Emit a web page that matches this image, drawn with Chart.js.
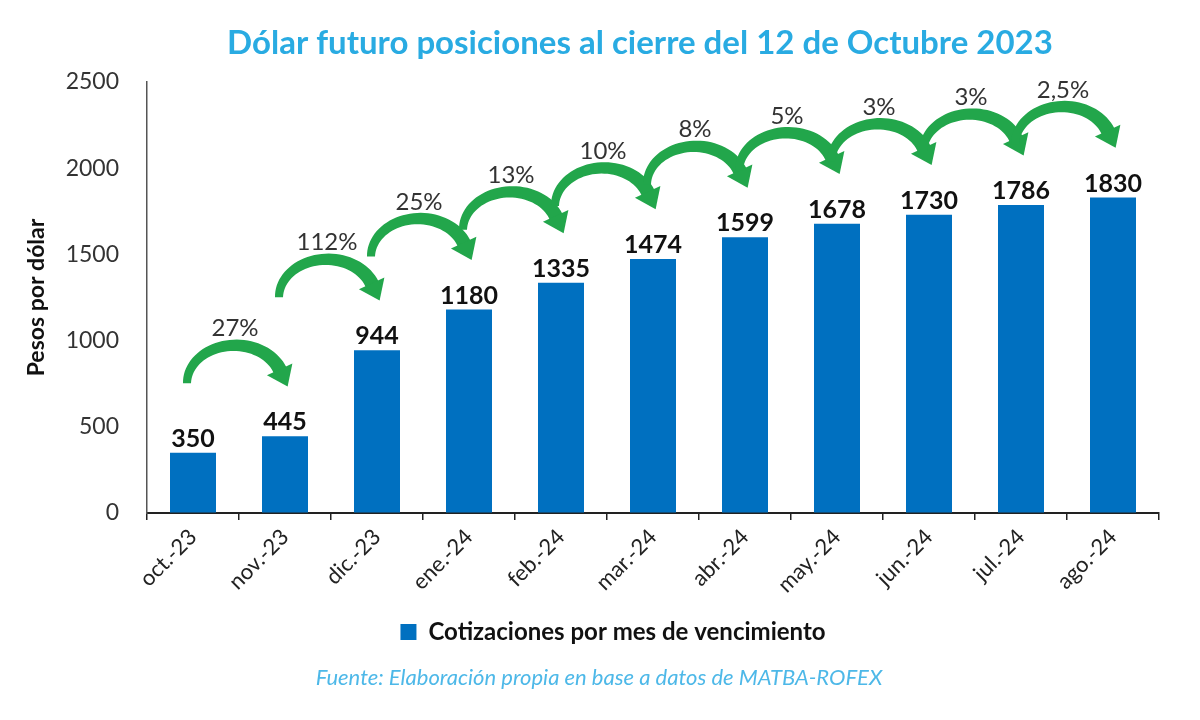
<!DOCTYPE html>
<html>
<head>
<meta charset="utf-8">
<script src="https://cdn.jsdelivr.net/npm/chart.js@4.4.0/dist/chart.umd.min.js"></script>
<style>
  html, body { margin: 0; padding: 0; background: #fff; }
  #wrap { width: 1200px; height: 720px; }
</style>
</head>
<body>
<div id="wrap"><canvas id="chart" width="1200" height="720"></canvas></div>
<script>
// chart data
const months = ['oct.-23', 'nov.-23', 'dic.-23', 'ene.-24', 'feb.-24', 'mar.-24',
                'abr.-24', 'may.-24', 'jun.-24', 'jul.-24', 'ago.-24'];
const quotes = [350, 445, 944, 1180, 1335, 1474, 1599, 1678, 1730, 1786, 1830];
// change between consecutive months (arrows)
const monthlyChange = ['27%', '112%', '25%', '13%', '10%', '8%', '5%', '3%', '3%', '2,5%'];
const yTicks = [0, 500, 1000, 1500, 2000, 2500];

const chartTitle = 'Dólar futuro posiciones al cierre del 12 de Octubre 2023';
const seriesName = 'Cotizaciones por mes de vencimiento';
const axisName = 'Pesos por dólar';
const sourceNote = 'Fuente: Elaboración propia en base a datos de MATBA-ROFEX';

const FONT = 'Lato, "Open Sans", sans-serif';
const BAR_BLUE = '#0070C0';
const ARROW_GREEN = '#22A64B';

// curved green arrow from one bar to the next
function drawArrow(ctx, x0, x1, yb) {
    const cx = (x0 + x1) / 2 - 4;
    const rx = (x1 - x0) / 2 + 2;
    const ry = 38;
    const t0 = Math.PI, t1 = 2 * Math.PI - 0.35;
    const n = 40;
    const outer = [], inner = [];
    for (let k = 0; k <= n; k++) {
        const t = t0 + (t1 - t0) * k / n;
        const px = cx + rx * Math.cos(t), py = yb + ry * Math.sin(t);
        let nx = ry * Math.cos(t), ny = rx * Math.sin(t);
        const len = Math.hypot(nx, ny);
        nx /= len; ny /= len;
        const w = 8 + 6 * k / n;
        outer.push([px + nx * w / 2, py + ny * w / 2]);
        inner.push([px - nx * w / 2, py - ny * w / 2]);
    }
    ctx.beginPath();
    outer.forEach((p, i) => i ? ctx.lineTo(p[0], p[1]) : ctx.moveTo(p[0], p[1]));
    inner.reverse().forEach(p => ctx.lineTo(p[0], p[1]));
    ctx.closePath();
    ctx.fill();

    // arrow head
    const ex = cx + rx * Math.cos(t1), ey = yb + ry * Math.sin(t1);
    let dx = -rx * Math.sin(t1), dy = ry * Math.cos(t1);
    const dl = Math.hypot(dx, dy);
    dx /= dl; dy /= dl;
    const qx = -dy, qy = dx;
    ctx.beginPath();
    ctx.moveTo(ex + qx * 14 - dx, ey + qy * 14 - dy);
    ctx.lineTo(ex + dx * 18, ey + dy * 18);
    ctx.lineTo(ex - qx * 14 - dx, ey - qy * 14 - dy);
    ctx.closePath();
    ctx.fill();
    return { cx, top: yb - ry };
}

const decorations = {
    id: 'decorations',
    afterLayout(chart) {
        // legend sits a little right of the canvas centre in the original
        if (chart.legend) {
            chart.legend.left += 22;
            chart.legend.right += 22;
        }
    },
    afterDatasetsDraw(chart) {
        const ctx = chart.ctx;
        const bars = chart.getDatasetMeta(0).data;
        ctx.save();

        // value labels above bars
        ctx.font = 'bold 25px ' + FONT;
        ctx.fillStyle = '#111';
        ctx.textAlign = 'center';
        ctx.textBaseline = 'alphabetic';
        bars.forEach((bar, i) => ctx.fillText(String(quotes[i]), bar.x, bar.y - 6));

        // arrows + percentages
        for (let i = 0; i < monthlyChange.length; i++) {
            const yb = bars[i + 1].y - 53;
            ctx.fillStyle = ARROW_GREEN;
            const a = drawArrow(ctx, bars[i].x, bars[i + 1].x, yb);
            ctx.fillStyle = '#333';
            ctx.font = '24px ' + FONT;
            ctx.fillText(monthlyChange[i], a.cx, a.top - 9);
        }
        ctx.restore();
    },
    afterDraw(chart) {
        const ctx = chart.ctx;
        ctx.save();
        ctx.textAlign = 'center';
        ctx.textBaseline = 'middle';
        ctx.fillStyle = '#29ABE2';
        ctx.font = 'bold 33px ' + FONT;
        ctx.fillText(chartTitle, 640, 43);
        ctx.fillStyle = '#4DB8E8';
        ctx.font = 'italic 22px ' + FONT;
        ctx.fillText(sourceNote, 599, 678);
        ctx.restore();
    }
};

new Chart(document.getElementById('chart'), {
    type: 'bar',
    data: {
        labels: months,
        datasets: [{
            label: seriesName,
            data: quotes,
            backgroundColor: BAR_BLUE,
            borderWidth: 0,
            categoryPercentage: 1,
            barPercentage: 0.5
        }]
    },
    options: {
        responsive: false,
        animation: false,
        devicePixelRatio: 1,
        layout: { padding: { left: 23, right: 41, top: 82, bottom: 66 } },
        scales: {
            x: {
                grid: { offset: true, drawOnChartArea: false, drawTicks: true, tickLength: 7, color: '#222', lineWidth: 1.5 },
                border: { color: '#222', width: 2 },
                ticks: { minRotation: 45, maxRotation: 45, color: '#222', padding: 4, font: { family: FONT, size: 22 } },
                afterFit(scale) { scale.height = 97; }
            },
            y: {
                min: 0,
                max: 2500,
                afterBuildTicks(scale) { scale.ticks = yTicks.map(v => ({ value: v })); },
                grid: { drawOnChartArea: false, drawTicks: false },
                border: { color: '#555', width: 1.5 },
                ticks: {
                    color: '#333',
                    padding: 28,
                    font: { family: FONT, size: 23 },
                    callback: v => String(v)
                },
                title: { display: true, text: axisName, color: '#111', padding: 0, font: { family: FONT, size: 23, weight: 'bold' } },
                afterFit(scale) { scale.width = 124; }
            }
        },
        plugins: {
            title: { display: false },
            tooltip: { enabled: false },
            legend: {
                position: 'bottom',
                labels: {
                    boxWidth: 16,
                    boxHeight: 16,
                    color: '#111',
                    padding: 10,
                    font: { family: FONT, size: 24, weight: 'bold' }
                }
            }
        }
    },
    plugins: [decorations]
});
</script>
</body>
</html>
